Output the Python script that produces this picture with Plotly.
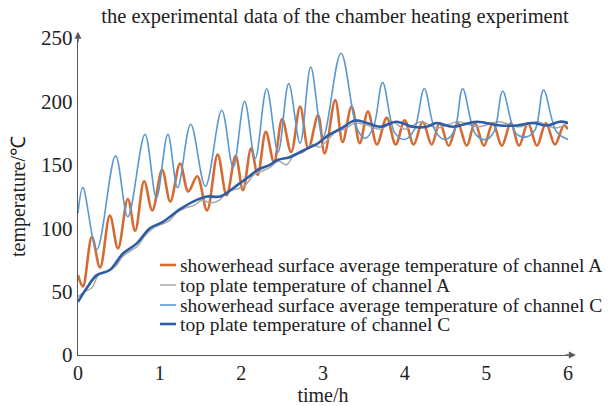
import plotly.graph_objects as go

# ---------------- data ----------------
series_names = [
    "showerhead surface average temperature of channel A",
    "top plate temperature of channel A",
    "showerhead surface average temperature of channel C",
    "top plate temperature of channel C",
]

# showerhead surface average temperature of channel A
sha_t = [0.00, 0.06, 0.17, 0.27, 0.39, 0.49, 0.61, 0.70, 0.81, 0.91, 1.03, 1.13, 1.25, 1.35,
         1.46, 1.58, 1.71, 1.82, 1.93, 2.02, 2.12, 2.20, 2.30, 2.40, 2.50, 2.61, 2.72, 2.82,
         2.94, 3.02, 3.15, 3.24, 3.35, 3.45, 3.55, 3.66, 3.78, 3.89, 4.00, 4.11, 4.22, 4.33,
         4.43, 4.54, 4.65, 4.76, 4.86, 4.97, 5.08, 5.19, 5.30, 5.40, 5.51, 5.62, 5.73, 5.84,
         5.95, 6.00]
sha_v = [63, 54, 93, 69, 110, 84, 123, 98, 137, 114, 146, 121, 151, 129,
         141, 114, 158, 126, 157, 130, 163, 142, 176, 152, 186, 160, 196, 163,
         189, 159, 201, 168, 196, 167, 192, 166, 187, 166, 185, 166, 184, 166,
         183, 165, 183, 165, 183, 165, 183, 165, 183, 165, 183, 165, 183, 166,
         181, 178]

# top plate temperature of channel A
tpa_t = [0.00, 0.08, 0.17, 0.26, 0.36, 0.46, 0.55, 0.64, 0.73, 0.82, 0.92, 1.02, 1.12, 1.22,
         1.32, 1.42, 1.52, 1.62, 1.73, 1.83, 1.95, 2.05, 2.15, 2.25, 2.35, 2.45, 2.55, 2.65,
         2.76, 2.86, 2.96, 3.06, 3.16, 3.26, 3.40, 3.55, 3.70, 3.85, 4.00, 4.20, 4.40, 4.65,
         4.90, 5.15, 5.40, 5.62, 5.85, 6.00]
tpa_v = [46, 50, 53, 64, 66, 70, 78, 82, 86, 94, 100, 103, 106, 113,
         116, 118, 122, 120, 122, 129, 131, 134, 142, 145, 148, 153, 150, 158,
         160, 166, 164, 170, 176, 178, 183, 181, 178, 184, 178, 184, 179, 184,
         180, 184, 180, 184, 179, 183]

# showerhead surface average temperature of channel C
shc_t = [0.00, 0.06, 0.23, 0.46, 0.61, 0.82, 0.96, 1.10, 1.22, 1.38, 1.56, 1.76, 1.90, 2.04,
         2.17, 2.31, 2.45, 2.58, 2.72, 2.85, 3.00, 3.22, 3.42, 3.52, 3.62, 3.73, 3.88, 4.00,
         4.12, 4.24, 4.38, 4.50, 4.61, 4.71, 4.87, 5.00, 5.10, 5.20, 5.36, 5.49, 5.60, 5.70,
         5.86, 6.00]
shc_v = [112, 132, 83, 157, 109, 174, 124, 174, 132, 182, 133, 193, 148, 200,
         155, 210, 160, 214, 167, 227, 172, 238, 178, 171, 180, 215, 175, 170,
         178, 210, 176, 170, 177, 210, 174, 170, 177, 208, 175, 172, 178, 209,
         176, 170]

# top plate temperature of channel C
tpc_t = [0.00, 0.12, 0.23, 0.39, 0.55, 0.72, 0.88, 1.04, 1.25, 1.41, 1.58, 1.74, 1.95, 2.08,
         2.20, 2.35, 2.45, 2.59, 2.78, 2.94, 3.06, 3.23, 3.39, 3.54, 3.70, 3.90, 4.10, 4.27,
         4.39, 4.59, 4.88, 5.17, 5.37, 5.57, 5.74, 5.90, 6.00]
tpc_v = [42, 54, 63, 67, 80, 88, 100, 105, 115, 121, 125, 125, 134, 140,
         146, 150, 154, 156, 162, 167, 173, 179, 185, 183, 180, 184, 180, 180,
         183, 180, 184, 181, 181, 183, 181, 184, 183]

x_ticks = [0, 1, 2, 3, 4, 5, 6]
y_ticks = [0, 50, 100, 150, 200, 250]

colors = ["#D56B32", "#A8A8A8", "#5B98CF", "#2E5CA6"]
widths = [2.6, 1.5, 1.6, 2.6]

# ---------------- figure ----------------
FONT = "Liberation Serif, Times New Roman, serif"
fig = go.Figure()
data = [(sha_t, sha_v), (tpa_t, tpa_v), (shc_t, shc_v), (tpc_t, tpc_v)]
for (t, v), name, c, w in zip(data, series_names, colors, widths):
    fig.add_trace(go.Scatter(x=t, y=v, mode="lines", name=name,
                             line=dict(color=c, width=w, shape="spline", smoothing=1.0),
                             showlegend=False))

W, H = 614, 406
ml, mr, mt, mb = 78, 46, 38, 51
pw, ph = W - ml - mr, H - mt - mb

def px2paper(px, py):
    return (px - ml) / pw, (H - mb - py) / ph

# custom legend (tight rows like the reference)
rows_y = [265, 285, 305, 324]
for name, c, w, ry in zip(series_names, colors, widths, rows_y):
    x0, y0 = px2paper(160, ry)
    x1, _ = px2paper(176, ry)
    fig.add_shape(type="line", xref="paper", yref="paper", x0=x0, x1=x1, y0=y0, y1=y0,
                  line=dict(color=c, width=w))
    xt, _ = px2paper(178, ry)
    fig.add_annotation(xref="paper", yref="paper", x=xt, y=y0, text=name, showarrow=False,
                       xanchor="left", yanchor="middle",
                       font=dict(family=FONT, size=19.5, color="#222222"))

# axis arrows
fig.add_annotation(xref="paper", yref="paper", x=1.016, y=0, ax=-12, ay=0, axref="pixel",
                   ayref="pixel", text="", showarrow=True, arrowhead=2, arrowsize=1,
                   arrowwidth=1.4, arrowcolor="#595959")
fig.add_annotation(xref="paper", yref="paper", x=0, y=1.02, ax=0, ay=12, text="",
                   showarrow=True, arrowhead=2, arrowsize=1, arrowwidth=1.4,
                   arrowcolor="#595959")

fig.update_layout(
    width=W, height=H,
    margin=dict(l=ml, r=mr, t=mt, b=mb, autoexpand=False),
    paper_bgcolor="white", plot_bgcolor="white",
    title=dict(text="the experimental data of the chamber heating experiment",
               x=335 / W, y=1 - 16 / H, xref="container", yref="container",
               xanchor="center", yanchor="middle",
               font=dict(family=FONT, size=20.5, color="#222222")),
    xaxis=dict(range=[0, 6], tickvals=x_ticks, showgrid=False, zeroline=False,
               showline=True, linecolor="#595959", linewidth=1.4, ticks="",
               automargin=False,
               tickfont=dict(family=FONT, size=20, color="#222222"),
               title=dict(text="time/h", standoff=9,
                          font=dict(family=FONT, size=20, color="#222222"))),
    yaxis=dict(range=[0, 250], tickvals=y_ticks, showgrid=False, zeroline=False,
               showline=True, linecolor="#595959", linewidth=1.4, ticks="",
               automargin=False,
               tickfont=dict(family=FONT, size=21, color="#222222"),
               title=dict(text="temperature/℃", standoff=10,
                          font=dict(family=FONT, size=20, color="#222222"))),
)

fig.write_html("out.html", config={"displayModeBar": False},
               post_script="document.body.style.margin='0';document.body.style.padding='0';")
